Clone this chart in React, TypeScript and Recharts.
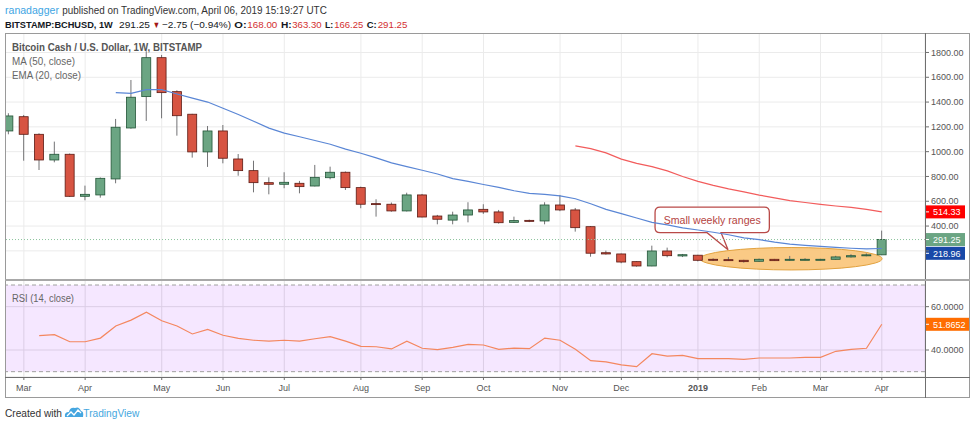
import React from 'react';
import {
  ComposedChart, Bar, Line, XAxis, YAxis, CartesianGrid, ReferenceLine, ReferenceArea,
} from 'recharts';

// weekly bars, index 0 = week of Feb 26 2018 ... index 57 = week of Apr 1 2019
const opens = [
  1167, 1282, 1140, 933, 979, 640, 651, 780, 1191, 1444, 1758, 1484, 1302, 998, 1167, 941, 847, 750, 737, 745,
  723, 790, 834, 710, 581, 576, 522, 651, 481, 448, 489, 535, 514, 430, 446, 441, 570, 530, 395, 185,
  175, 113, 78, 199, 159, 165, 132, 129, 124, 116, 132, 124, 128, 128, 132, 151, 161, 168,
];
const highs = [
  1310, 1296, 1148, 1081, 985, 726, 792, 1264, 1578, 1810, 1780, 1495, 1305, 1207, 1215, 981, 927, 793, 834, 764,
  893, 879, 840, 718, 616, 590, 669, 659, 490, 516, 592, 576, 530, 476, 452, 592, 651, 546, 400, 202,
  178, 115, 242, 226, 175, 168, 140, 150, 128, 138, 135, 159, 141, 136, 160, 173, 180, 363.3,
];
const lows = [
  1140, 927, 852, 914, 635, 608, 629, 745, 1185, 1248, 1269, 1129, 952, 877, 906, 806, 672, 656, 705, 664,
  720, 777, 691, 544, 476, 516, 518, 470, 414, 414, 430, 498, 420, 425, 432, 414, 520, 355, 153, 170,
  100, 73, 76, 148, 150, 115, 118, 118, 105, 112, 118, 120, 124, 122, 128, 146, 156, 166.25,
];
const closes = [
  1288, 1140, 933, 979, 640, 656, 785, 1197, 1439, 1758, 1476, 1290, 998, 1167, 947, 847, 750, 737, 753, 718,
  793, 834, 710, 576, 576, 522, 651, 473, 455, 489, 530, 514, 427, 444, 438, 570, 530, 387, 181, 175,
  110, 78, 199, 161, 169, 124, 124, 121, 113, 132, 121, 132, 132, 132, 151, 161, 168, 291.25,
];
const ema20 = [
  null, null, null, null, null, null, null, 1476, 1470, 1500, 1500, 1465, 1432, 1400, 1350, 1300, 1245, 1190, 1150, 1120,
  1090, 1060, 1020, 987, 950, 910, 880, 850, 820, 783, 760, 735, 712, 685, 664, 655, 643, 620, 580, 535,
  500, 465, 430, 410, 385, 368, 350, 330, 305, 290, 270, 255, 245, 236, 228, 221, 216, 218.96,
];
const ma50 = [
  null, null, null, null, null, null, null, null, null, null, null, null, null, null, null, null, null, null, null, null,
  null, null, null, null, null, null, null, null, null, null, null, null, null, null, null, null, null, 1046, 1025, 990,
  940, 906, 879, 845, 800, 760, 728, 700, 675, 650, 628, 605, 590, 575, 562, 550, 535, 514.33,
];
const rsi14 = [
  null, null, 46.6, 47.1, 43.8, 43.8, 45.5, 51.1, 53.8, 57.4, 53.5, 51.1, 47.4, 49.5, 46.8, 45.4, 44.5, 44.1, 44.5, 44.1,
  45.2, 46.2, 44.1, 41.7, 41.5, 40.5, 44.1, 40.8, 40.2, 41.2, 42.6, 42.3, 40.3, 40.9, 40.6, 45.5, 44.5, 40.3, 35.1, 34.5,
  33.1, 32.3, 38.3, 37.2, 37.5, 36.0, 36.0, 36.0, 35.7, 36.3, 36.3, 36.3, 36.6, 36.6, 39.4, 40.3, 40.8, 51.8652,
];

const monthTicks = [1, 5, 10, 14, 18, 23, 27, 31, 36, 40, 45, 49, 53, 57];
const monthLabels = ['Mar', 'Apr', 'May', 'Jun', 'Jul', 'Aug', 'Sep', 'Oct', 'Nov', 'Dec', '2019', 'Feb', 'Mar', 'Apr'];
const priceTicks = [0, 200, 400, 600, 800, 1000, 1200, 1400, 1600, 1800];
const rsiTicks = [40, 60];

const lastClose = 291.25;
const lastMa = 514.33;
const lastEma = 218.96;
const lastRsi = 51.8652;

const data = closes.map((c, i) => ({
  i,
  open: opens[i],
  high: highs[i],
  low: lows[i],
  close: c,
  range: [lows[i], highs[i]],
  ema: ema20[i],
  ma: ma50[i],
  rsi: rsi14[i],
}));

const FONT = "'Liberation Sans', Arial, sans-serif";
const X_DOMAIN = [-0.23, 59.82];
const AXIS_GREY = '#6f6f6f';
const LABEL_GREY = '#555';

// eslint-disable-next-line @typescript-eslint/no-explicit-any
function Candle(props: any) {
  const { x, y, width, height, payload } = props;
  if (x == null || !payload) return null;
  const { open, close, high, low } = payload;
  const up = close >= open;
  const k = high === low ? 0 : height / (high - low);
  const top = y + (high - Math.max(open, close)) * k;
  const bottom = y + (high - Math.min(open, close)) * k;
  const cx = x + width / 2;
  return (
    <g>
      <line x1={cx} x2={cx} y1={y} y2={y + height} stroke="#737375" strokeWidth={1} />
      <rect
        x={x}
        y={top}
        width={width}
        height={Math.max(bottom - top, 1)}
        fill={up ? '#6ba583' : '#d75442'}
        stroke={up ? '#225437' : '#5b1a13'}
        strokeWidth={0.8}
      />
    </g>
  );
}

// eslint-disable-next-line @typescript-eslint/no-explicit-any
function PriceTag({ viewBox, text, bg, dy = 0, w = 40 }: any) {
  if (!viewBox) return null;
  const x = viewBox.x + viewBox.width;
  const y = viewBox.y + dy;
  return (
    <g>
      <rect x={x} y={y - 6.5} width={w} height={13} fill={bg} />
      <line x1={x} x2={x + 4} y1={y} y2={y} stroke="#fff" strokeWidth={1} />
      <text x={x + 8} y={y + 3.3} fill="#fff" fontSize={9} fontFamily={FONT}>{text}</text>
    </g>
  );
}

// eslint-disable-next-line @typescript-eslint/no-explicit-any
function PriceTick({ x, y, payload }: any) {
  // the 200 label sits under the price tags
  if (payload.value === 200) return <g />;
  return (
    <text x={x} y={y + 3.2} textAnchor="start" fontSize={9} fill={LABEL_GREY} fontFamily={FONT}>
      {payload.value.toFixed(2)}
    </text>
  );
}

// eslint-disable-next-line @typescript-eslint/no-explicit-any
function RsiTick({ x, y, payload }: any) {
  return (
    <text x={x} y={y + 3.2} textAnchor="start" fontSize={9} fill={LABEL_GREY} fontFamily={FONT}>
      {payload.value.toFixed(4)}
    </text>
  );
}

// eslint-disable-next-line @typescript-eslint/no-explicit-any
function MonthTick({ x, y, payload }: any) {
  const label = monthLabels[monthTicks.indexOf(payload.value)] ?? '';
  return (
    <text
      x={x}
      y={y + 9}
      textAnchor="middle"
      fontSize={9}
      fill={LABEL_GREY}
      fontWeight={label === '2019' ? 'bold' : 'normal'}
      fontFamily={FONT}
    >
      {label}
    </text>
  );
}

// eslint-disable-next-line @typescript-eslint/no-explicit-any
function RangeEllipse({ x, y, width, height }: any) {
  return (
    <ellipse
      cx={x + width / 2}
      cy={y + height / 2}
      rx={width / 2}
      ry={height / 2}
      fill="#f9c478"
      fillOpacity={0.9}
      stroke="#e2a23f"
      strokeWidth={1}
    />
  );
}

// eslint-disable-next-line @typescript-eslint/no-explicit-any
function Callout({ x, y, width, height }: any) {
  const r = 5;
  const b = y + height;
  const d = `M${x + r},${y} H${x + width - r} Q${x + width},${y} ${x + width},${y + r} V${b - r} `
    + `Q${x + width},${b} ${x + width - r},${b} H${x + 66} L${x + 73},${b + 17} L${x + 52},${b} `
    + `H${x + r} Q${x},${b} ${x},${b - r} V${y + r} Q${x},${y} ${x + r},${y} Z`;
  return (
    <g>
      <path d={d} fill="#fff" stroke="#b94a48" strokeWidth={1.3} />
      <text
        x={x + width / 2}
        y={y + height / 2 + 4}
        textAnchor="middle"
        fontSize={11}
        fill="#b5443f"
        fontFamily={FONT}
        textLength={97}
        lengthAdjust="spacingAndGlyphs"
      >
        Small weekly ranges
      </text>
    </g>
  );
}

const headerBits = [
  { t: 'BITSTAMP:BCHUSD, 1W', x: 5, w: 107.7, bold: true, c: '#131722' },
  { t: '291.25', x: 119, w: 31, c: '#131722' },
  { t: '▼', x: 152.7, w: 7.3, c: '#a31717' },
  { t: '−2.75 (−0.94%)', x: 162, w: 69, c: '#131722' },
  { t: 'O:', x: 234.3, w: 12.3, bold: true, c: '#131722' },
  { t: '168.00', x: 247.3, w: 30, c: '#d32f2f' },
  { t: 'H:', x: 281, w: 10.7, bold: true, c: '#131722' },
  { t: '363.30', x: 292.3, w: 29.3, c: '#d32f2f' },
  { t: 'L:', x: 325, w: 8.3, bold: true, c: '#131722' },
  { t: '166.25', x: 334.3, w: 29, c: '#d32f2f' },
  { t: 'C:', x: 366.7, w: 10, bold: true, c: '#131722' },
  { t: '291.25', x: 377.7, w: 29.7, c: '#d32f2f' },
];

function Overlay() {
  return (
    <svg width={974} height={424} style={{ position: 'absolute', left: 0, top: 0, pointerEvents: 'none' }} fontFamily={FONT}>
      <text x={5} y={14} fontSize={11} fill="#3ea5e3" textLength={54} lengthAdjust="spacingAndGlyphs">ranadagger</text>
      <text x={62.3} y={14} fontSize={10.5} fill="#333" textLength={264.5} lengthAdjust="spacingAndGlyphs">
        published on TradingView.com, April 06, 2019 15:19:27 UTC
      </text>
      {headerBits.map((b) => (
        <text
          key={b.x}
          x={b.x}
          y={28}
          fontSize={9.3}
          fill={b.c}
          fontWeight={b.bold ? 'bold' : 'normal'}
          textLength={b.w}
          lengthAdjust="spacingAndGlyphs"
        >
          {b.t}
        </text>
      ))}

      <text x={12} y={51} fontSize={10} fill="#555" fontWeight="bold" textLength={190} lengthAdjust="spacingAndGlyphs">
        Bitcoin Cash / U.S. Dollar, 1W, BITSTAMP
      </text>
      <text x={12} y={65.3} fontSize={10.5} fill="#666" textLength={63} lengthAdjust="spacingAndGlyphs">MA (50, close)</text>
      <text x={12} y={78.7} fontSize={10.5} fill="#666" textLength={69} lengthAdjust="spacingAndGlyphs">EMA (20, close)</text>
      <text x={12} y={302} fontSize={10} fill="#666" textLength={62} lengthAdjust="spacingAndGlyphs">RSI (14, close)</text>

      <text x={5} y={417} fontSize={11.5} fill="#333" textLength={57} lengthAdjust="spacingAndGlyphs">Created with</text>
      <g transform="translate(64,406)">
        <path d="M1 11 Q0 6 5 6 Q6 1 11 2 Q15 0 17 5 Q20 5 19 11 Z" fill="#45a6e0" />
        <path d="M3 10 L7 6 L10 9 L14 4 L17 7" fill="none" stroke="#fff" strokeWidth={1.3} />
      </g>
      <text x={83.3} y={417} fontSize={11.5} fill="#46a7e0" textLength={56} lengthAdjust="spacingAndGlyphs">TradingView</text>
    </svg>
  );
}

export default function App() {
  return (
    <div style={{ position: 'absolute', left: 0, top: 0, width: 974, height: 424, background: '#fff', overflow: 'hidden', fontFamily: FONT }}>
      <div style={{ position: 'absolute', left: 5, top: 33 }}>
        <ComposedChart width={965} height={247} data={data} margin={{ top: 0, right: 0, left: 0, bottom: 0 }}>
          <CartesianGrid stroke="#ebebeb" />
          <XAxis dataKey="i" type="number" domain={X_DOMAIN} ticks={monthTicks} allowDataOverflow hide />
          <YAxis
            orientation="right"
            type="number"
            width={45}
            domain={[-35, 1957]}
            ticks={priceTicks}
            allowDataOverflow
            axisLine={false}
            tickLine={{ stroke: AXIS_GREY }}
            tickSize={4}
            tick={<PriceTick />}
          />
          <ReferenceLine y={lastClose} stroke="#8cc49c" strokeDasharray="1 2" strokeWidth={1} />
          <ReferenceArea x1={45.14} x2={57.02} y1={46} y2={227} shape={<RangeEllipse />} />
          <Bar dataKey="range" barSize={9} shape={<Candle />} isAnimationActive={false} />
          <Line type="linear" dataKey="ema" stroke="#5a86d5" strokeWidth={1.2} dot={false} activeDot={false} isAnimationActive={false} />
          <Line type="linear" dataKey="ma" stroke="#f25c5c" strokeWidth={1.2} dot={false} activeDot={false} isAnimationActive={false} />
          <ReferenceArea x1={42.2} x2={49.66} y1={347} y2={552} shape={<Callout />} />
          <ReferenceLine y={lastMa} stroke="none" label={<PriceTag text="514.33" bg="#ff0000" />} />
          <ReferenceLine y={lastClose} stroke="none" label={<PriceTag text="291.25" bg="#6ba583" />} />
          <ReferenceLine y={lastEma} stroke="none" label={<PriceTag text="218.96" bg="#1848a8" dy={4.8} />} />
        </ComposedChart>
      </div>

      <div style={{ position: 'absolute', left: 5, top: 280 }}>
        <ComposedChart width={965} height={118} data={data} margin={{ top: 0, right: 0, left: 0, bottom: 0 }}>
          <CartesianGrid stroke="#e3e3e3" />
          <ReferenceArea y1={30} y2={70} fill="#9915ff" fillOpacity={0.1} stroke="none" />
          <ReferenceLine y={70} stroke="#a0a0a0" strokeDasharray="4 3" />
          <ReferenceLine y={30} stroke="#a0a0a0" strokeDasharray="4 3" />
          <XAxis
            dataKey="i"
            type="number"
            domain={X_DOMAIN}
            ticks={monthTicks}
            allowDataOverflow
            height={21}
            axisLine={false}
            tickLine={{ stroke: AXIS_GREY }}
            tickSize={3}
            tick={<MonthTick />}
          />
          <YAxis
            orientation="right"
            type="number"
            width={45}
            domain={[27.54, 72.31]}
            ticks={rsiTicks}
            allowDataOverflow
            axisLine={false}
            tickLine={{ stroke: AXIS_GREY }}
            tickSize={4}
            tick={<RsiTick />}
          />
          <Line type="linear" dataKey="rsi" stroke="#f4875f" strokeWidth={1.2} dot={false} activeDot={false} isAnimationActive={false} />
          <ReferenceLine y={lastRsi} stroke="none" label={<PriceTag text="51.8652" bg="#ff6d00" w={46} />} />
        </ComposedChart>
      </div>

      {/* pane frame */}
      <div style={{ position: 'absolute', left: 5, top: 33, width: 965, height: 365, border: '1px solid #9a9a9a', boxSizing: 'border-box' }} />
      <div style={{ position: 'absolute', left: 925, top: 33, width: 1, height: 365, background: AXIS_GREY }} />
      <div style={{ position: 'absolute', left: 5, top: 279, width: 965, height: 2, background: '#a8a8a8' }} />
      <div style={{ position: 'absolute', left: 5, top: 377, width: 965, height: 1, background: AXIS_GREY }} />

      <Overlay />
    </div>
  );
}
